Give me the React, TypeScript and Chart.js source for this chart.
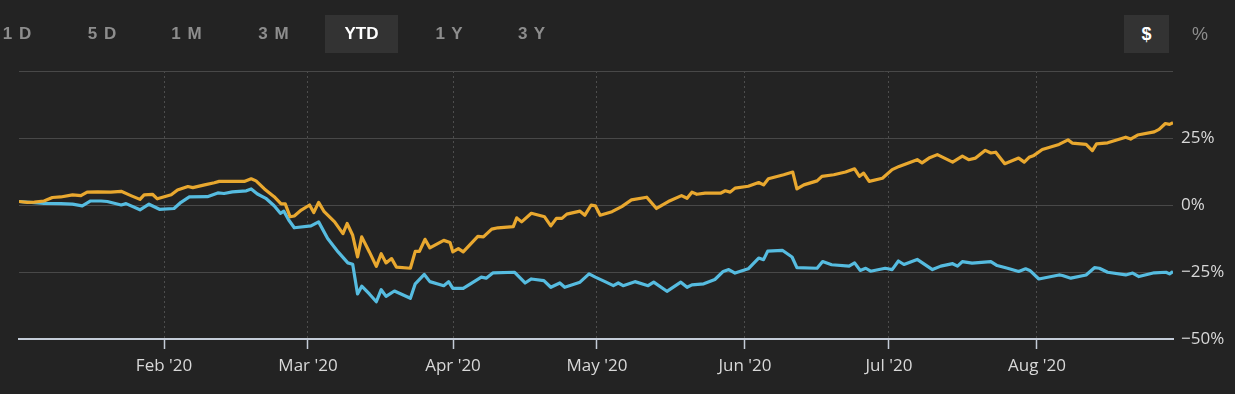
import React, { useEffect, useRef } from "react";
import { Chart, registerables } from "chart.js";

Chart.register(...registerables);

// x = trading-day position (0 = Jan 2 2020)
const monthTickPos = [20.86, 41.57, 62.43, 83.14, 104.43, 125.14, 146.43];
const monthLabels = ["Feb '20", "Mar '20", "Apr '20", "May '20", "Jun '20", "Jul '20", "Aug '20"];

const yTicks = [-50, -25, 0, 25, 50];

const rangeButtons = ["1 D", "5 D", "1 M", "3 M", "YTD", "1 Y", "3 Y"];
const selectedRange = "YTD";

const goldDays = [
  0, 1.2, 2.2, 3.6, 4.8, 6.0, 7.7, 8.9, 9.8, 11.3, 13.2, 14.7, 16.1, 17.4, 18.0, 19.2, 19.9, 21.9, 22.8, 24.3,
  25.0, 26.7, 28.1, 28.8, 30.5, 32.4, 33.4, 34.1, 35.3, 36.7, 37.7, 38.3, 39.0, 39.6, 40.6,
  41.8, 42.4, 43.1, 43.9, 45.4, 46.6, 47.2, 48.0, 48.7, 49.3, 50.4, 51.4, 52.1, 52.8, 53.6, 54.3, 56.3, 57.0,
  57.6, 58.4, 59.1, 61.1, 62.0, 62.4, 63.2, 63.9, 66.0, 66.8, 68.0, 68.9, 71.1, 71.6, 72.3, 73.7, 75.6, 76.5,
  77.3, 78.1, 78.8, 80.7, 81.4, 82.3, 82.9,
  83.6, 85.3, 86.7, 88.1, 90.3, 91.7, 93.4, 95.3, 96.1, 96.8, 97.5, 98.7, 100.9, 101.6, 102.3, 103.0, 104.9,
  106.4, 107.1, 107.8, 110.0, 111.3, 111.9, 112.9, 114.8, 115.5, 117.2, 118.9, 120.2, 120.9, 121.5, 122.3, 124.2,
  125.6, 126.6, 129.2, 129.9, 130.9, 132.1, 134.3, 135.7, 136.6, 137.6, 139.0, 139.8, 140.5, 141.8, 143.8, 144.6,
  145.3, 146.0, 147.2, 149.6, 150.9, 151.5, 153.5, 154.4, 155.0, 156.6, 159.2, 159.9, 160.9, 163.3, 164.0, 164.9,
  165.5, 166.0,
];
const goldValues = [
  1.3, 1.0, 1.1, 1.5, 2.8, 3.0, 3.8, 3.5, 4.8, 4.9, 4.8, 5.1, 3.5, 2.1, 3.8, 4.0, 2.3, 3.8, 5.6, 6.9,
  6.5, 7.5, 8.3, 8.8, 8.8, 8.8, 9.8, 9.0, 6.0, 3.1, 0.4, 0.4, -4.4, -4.1, -1.9,
  0, -2.8, 1.0, -2.5, -6.3, -10.7, -6.9, -11.3, -19.4, -11.9, -17.5, -22.9, -18.2, -21.6, -20.0, -23.2, -23.6, -17.3,
  -17.3, -12.8, -16.0, -13.2, -14.0, -17.5, -16.3, -17.5, -11.7, -11.9, -9.0, -8.5, -8.1, -4.8, -6.3, -3.1, -4.4, -7.8,
  -5.0, -5.0, -3.4, -2.3, -3.8, 0, -0.3,
  -3.8, -2.5, -0.6, 1.9, 2.9, -1.3, 1.3, 3.5, 2.5, 4.8, 4.0, 4.4, 4.4, 5.3, 4.8, 6.3, 7.0,
  8.4, 7.5, 9.8, 11.3, 12.3, 6.0, 7.5, 9.0, 10.7, 11.3, 12.3, 13.5, 10.7, 11.9, 8.8, 10.0,
  13.2, 14.4, 16.9, 15.7, 17.5, 18.8, 16.0, 18.2, 16.9, 17.5, 20.4, 19.4, 19.7, 15.4, 17.5, 16.0,
  17.8, 18.5, 20.7, 22.6, 24.3, 23.1, 22.6, 20.3, 22.8, 23.2, 25.3, 24.6, 26.1, 27.3, 28.2, 30.4,
  30.1, 30.7,
];

const blueDays = [
  0, 3.6, 6.0, 7.7, 9.1, 10.3, 11.8, 12.7, 14.7, 15.4, 17.4, 18.7, 20.2, 22.3, 23.3, 24.5, 27.1, 28.6, 29.5, 30.7,
  32.7, 33.4, 34.3, 35.5, 36.7, 37.6, 38.1, 38.8, 39.6,
  42.0, 43.1, 44.4, 45.9, 47.3, 48.0, 48.7, 49.3, 50.4, 51.4, 52.1, 52.8, 54.0, 56.3, 57.0, 58.3, 59.1, 61.1,
  61.8, 62.4, 63.9, 66.5, 67.2, 68.2, 71.3, 72.8, 73.7, 75.5, 76.5, 77.8, 78.5, 80.7, 82.0,
  82.9, 84.3, 85.5, 86.2, 86.9, 88.6, 90.5, 91.3, 93.2, 95.2, 96.1, 96.8, 98.5, 100.1, 101.3, 102.1, 103.0, 104.9,
  106.4, 107.1, 107.7, 109.8, 111.2, 111.9, 114.8, 115.6, 116.9, 119.4, 120.2, 121.0, 121.8, 122.5, 124.6,
  125.6, 126.5, 127.3, 129.2, 131.4, 132.6, 134.3, 135.0, 135.7, 137.1, 139.8, 140.7, 142.2, 143.8, 144.8, 145.4,
  146.7, 149.6, 150.1, 151.3, 153.5, 154.7, 155.4, 156.6, 159.2, 160.2, 161.1, 163.3, 165.0, 165.5, 166.0,
];
const blueValues = [
  1.3, 0.6, 0.5, 0.3, -0.3, 1.5, 1.5, 1.3, 0, 0.5, -1.8, 0.3, -1.6, -1.3, 1.0, 3.0, 3.1, 4.5, 4.3, 4.9,
  5.3, 6.0, 4.1, 2.5, -0.3, -3.1, -2.3, -5.6, -8.5,
  -7.8, -6.3, -12.5, -17.5, -21.6, -22.1, -33.2, -30.3, -33.2, -36.1, -31.6, -34.1, -32.1, -34.8, -29.4, -25.9, -28.6, -30.1,
  -28.6, -31.1, -31.1, -26.9, -27.3, -25.3, -25.1, -29.1, -27.6, -28.2, -30.7, -29.1, -30.7, -28.8, -25.7,
  -26.9, -28.6, -30.1, -29.1, -30.1, -28.6, -30.1, -28.8, -32.2, -28.8, -30.7, -29.8, -29.4, -27.8, -24.8, -24.1, -25.4, -23.8,
  -19.8, -20.4, -17.2, -16.9, -19.4, -23.4, -23.6, -21.1, -22.3, -22.8, -21.6, -24.4, -23.6, -24.7, -23.6,
  -24.1, -20.9, -22.2, -20.3, -24.1, -22.8, -21.9, -22.8, -21.1, -21.7, -21.1, -22.6, -23.6, -24.8, -23.8, -24.4,
  -27.6, -26.1, -26.3, -27.3, -26.1, -23.4, -23.6, -25.1, -26.1, -25.4, -26.7, -25.3, -25.1, -25.7, -24.8,
];

const BG = "#232323";
const GOLD = "#e9a82f";
const BLUE = "#56bce0";

export default function App() {
  const canvasRef = useRef<HTMLCanvasElement | null>(null);

  useEffect(() => {
    document.body.style.margin = "0";
    document.body.style.background = BG;
    const canvas = canvasRef.current;
    if (!canvas) return;
    const chart = new Chart(canvas, {
      type: "line",
      data: {
        datasets: [
          {
            label: "Gold",
            data: goldDays.map((d, i) => ({ x: d, y: goldValues[i] })),
            borderColor: GOLD,
            borderWidth: 3.2,
            pointRadius: 0,
            tension: 0,
            borderJoinStyle: "round",
          },
          {
            label: "Blue",
            data: blueDays.map((d, i) => ({ x: d, y: blueValues[i] })),
            borderColor: BLUE,
            borderWidth: 3.2,
            pointRadius: 0,
            tension: 0,
            borderJoinStyle: "round",
          },
        ],
      },
      options: {
        responsive: false,
        animation: false,
        events: [],
        layout: { padding: { left: 19, top: 71, right: 0, bottom: 0 } },
        plugins: { legend: { display: false }, tooltip: { enabled: false } },
        scales: {
          x: {
            type: "linear",
            min: 0,
            max: 166,
            afterBuildTicks: (axis: any) => {
              axis.ticks = monthTickPos.map((v) => ({ value: v }));
            },
            afterFit: (axis: any) => {
              axis.height = 55;
            },
            ticks: {
              autoSkip: false,
              maxRotation: 0,
              padding: 7,
              color: "#d8d8d8",
              font: { family: '"Open Sans", sans-serif', size: 17 },
              callback: (_v: any, i: number) => monthLabels[i],
            },
            grid: {
              color: "#4d4d4d",
              lineWidth: 1,
              drawTicks: true,
              tickLength: 10,
              tickColor: "#c4ccd8",
              tickWidth: 1.5,
            },
            border: { display: true, color: "#c4ccd8", width: 2, dash: [2, 3] },
          },
          y: {
            position: "right",
            min: -50,
            max: 50,
            afterBuildTicks: (axis: any) => {
              axis.ticks = yTicks.map((v) => ({ value: v }));
            },
            afterFit: (axis: any) => {
              axis.width = 62;
            },
            ticks: {
              padding: 8,
              color: "#d8d8d8",
              font: { family: '"Open Sans", sans-serif', size: 17 },
              callback: (v: any) => (v === 50 ? "" : (v < 0 ? "\u2212" : "") + Math.abs(v) + "%"),
            },
            grid: { color: "#484848", lineWidth: 1, drawTicks: false },
            border: { display: false },
          },
        },
      },
    });
    return () => chart.destroy();
  }, []);

  const btnCenters = [17.5, 102.5, 187, 274, 361.5, 449.5, 532];

  return (
    <div style={{ position: "relative", width: 1235, height: 394, background: BG, overflow: "hidden" }}>
      <canvas ref={canvasRef} width={1235} height={394} style={{ position: "absolute", left: 0, top: 0, width: 1235, height: 394 }} />
      {rangeButtons.map((b, i) => {
        const sel = b === selectedRange;
        return (
          <div
            key={b}
            style={{
              position: "absolute",
              left: sel ? 325 : btnCenters[i] - 40,
              top: 15,
              width: sel ? 73 : 80,
              height: 38,
              lineHeight: "38px",
              textAlign: "center",
              background: sel ? "#333333" : "transparent",
              color: sel ? "#ffffff" : "#8d8d8d",
              fontFamily: '"Liberation Sans", Arial, sans-serif',
              fontWeight: 700,
              fontSize: 17,
              letterSpacing: sel ? 0 : 1,
            }}
          >
            {b}
          </div>
        );
      })}
      <div
        style={{
          position: "absolute",
          left: 1124,
          top: 15,
          width: 45,
          height: 38,
          lineHeight: "38px",
          textAlign: "center",
          background: "#333333",
          color: "#ffffff",
          fontFamily: '"Liberation Sans", Arial, sans-serif',
          fontWeight: 700,
          fontSize: 18,
        }}
      >
        $
      </div>
      <div
        style={{
          position: "absolute",
          left: 1180,
          top: 15,
          width: 40,
          height: 38,
          lineHeight: "38px",
          textAlign: "center",
          color: "#8d8d8d",
          fontFamily: '"Liberation Sans", Arial, sans-serif',
          fontWeight: 400,
          fontSize: 18,
        }}
      >
        %
      </div>
    </div>
  );
}
